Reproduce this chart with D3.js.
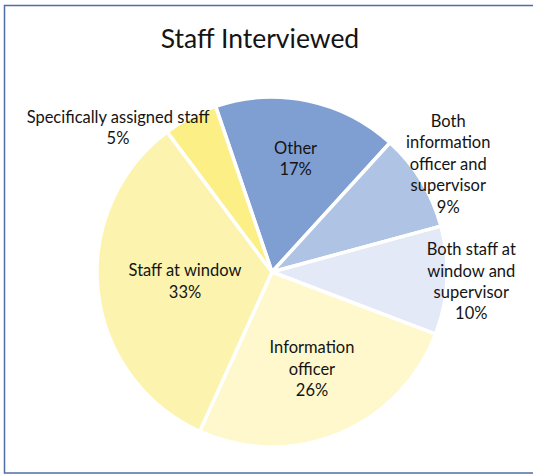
<!DOCTYPE html>
<html lang="en">
<head>
    <meta charset="UTF-8">
    <title>Staff Interviewed</title>
    <script src="https://d3js.org/d3.v7.min.js"></script>
    <style>
    html, body {
        margin: 0;
        background: #fff;
        overflow: hidden;
    }
    text {
        font-family: Lato, "Open Sans", sans-serif;
        fill: #141414;
    }
    </style>
</head>
<body>
    <div id="chart"></div>

    <script type="text/javascript">

    // slices, clockwise from the top
    var categories = ["Other", "Both information officer and supervisor", "Both staff at window and supervisor",
                      "Information officer", "Staff at window", "Specifically assigned staff"];
    var values = [17, 9, 10, 26, 33, 5];
    var labelLines = [
        ["Other", "17%"],
        ["Both", "information", "officer and", "supervisor", "9%"],
        ["Both staff at", "window and", "supervisor", "10%"],
        ["Information", "officer", "26%"],
        ["Staff at window", "33%"],
        ["Specifically assigned staff", "5%"]
    ];
    var colors = ["#7f9fd3", "#afc3e4", "#e3e9f6", "#fef8cc", "#fcf3ae", "#fcef85"];

    var width = 533, height = 476;
    var cx = 272, cy = 272, radius = 175;

    var svg = d3.select("#chart").append("svg")
        .attr("width", width)
        .attr("height", height)
        .style("display", "block");

    // outer frame (right side runs off the picture)
    svg.append("rect")
        .attr("x", 4.5)
        .attr("y", 5.5)
        .attr("width", 540)
        .attr("height", 467.5)
        .attr("fill", "none")
        .attr("stroke", "#4e6ea6")
        .attr("stroke-width", 1.5);

    svg.append("text")
        .attr("x", 260)
        .attr("y", 48)
        .attr("text-anchor", "middle")
        .style("font-size", "26.5px")
        .text("Staff Interviewed");

    var startDeg = -18.8;
    var pie = d3.pie()
        .sort(null)
        .startAngle(startDeg * Math.PI / 180)
        .endAngle((startDeg + 360) * Math.PI / 180);

    var arc = d3.arc().innerRadius(0).outerRadius(radius);

    var g = svg.append("g")
        .attr("transform", "translate(" + cx + "," + cy + ")");

    var arcs = pie(values);

    g.selectAll("path")
        .data(arcs)
        .enter()
        .append("path")
        .attr("d", arc)
        .attr("fill", function (d, i) { return colors[i]; })
        .attr("stroke", "#fff")
        .attr("stroke-width", 3.5)
        .attr("stroke-linejoin", "round");

    // label radius as a fraction of the pie radius
    var labelRadius = [0.66, 1.18, 1.14, 0.6, 0.5, 1.2];
    var lineHeight = 21.5;

    g.selectAll("text.label")
        .data(arcs)
        .enter()
        .append("text")
        .attr("class", "label")
        .attr("text-anchor", "middle")
        .style("font-size", "16.5px")
        .each(function (d, i) {
            var r = labelRadius[i] * radius;
            var pos = d3.arc().innerRadius(r).outerRadius(r).centroid(d);
            if (i === 5) {
                // too small for inside, Excel pushes it up and left
                pos = [-154, -144];
            }
            var lines = labelLines[i];
            var t = d3.select(this);
            var top = pos[1] - (lines.length - 1) * lineHeight / 2 + 5.5;
            lines.forEach(function (s, k) {
                t.append("tspan")
                    .attr("x", pos[0])
                    .attr("y", top + k * lineHeight)
                    .text(s);
            });
        });

    </script>
</body>
</html>
